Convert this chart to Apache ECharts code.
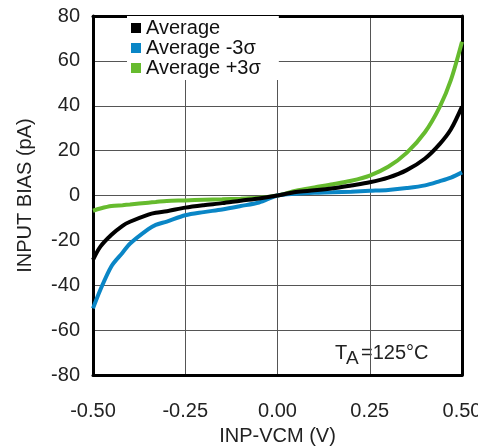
<!DOCTYPE html>
<html>
<head>
<meta charset="utf-8">
<script src="https://cdn.jsdelivr.net/npm/echarts@6/dist/echarts.min.js"></script>
<style>
html, body { margin: 0; padding: 0; background: #fff; }
#main { width: 478px; height: 448px; }
</style>
</head>
<body>
<div id="main"></div>
<script>
// INP-VCM (V)
var xVals = [-0.50, -0.48, -0.45, -0.42, -0.40, -0.35, -0.33, -0.30, -0.25, -0.20, -0.15, -0.10, -0.05, 0,
  0.05, 0.10, 0.15, 0.20, 0.25, 0.30, 0.35, 0.40, 0.44, 0.47, 0.50];
// input bias (pA)
var avg = [-28.7, -22.8, -17.5, -13.5, -11.7, -8.5, -7.7, -7.0, -5.4, -4.3, -3.4, -2.3, -1.3, 0,
  1.6, 2.3, 3.2, 4.5, 5.9, 8.0, 11.3, 16.5, 23.0, 29.5, 39.6];
var avgMinus = [-50.3, -42.0, -31.5, -25.5, -21.5, -15.0, -13.1, -11.6, -8.8, -7.4, -6.2, -4.7, -3.1, 0,
  0.8, 1.2, 1.4, 1.7, 2.1, 2.5, 3.3, 4.5, 6.4, 8.0, 10.3];
var avgPlus = [-6.8, -5.8, -4.7, -4.3, -4.0, -3.2, -2.9, -2.4, -2.2, -1.9, -1.7, -1.4, -1.0, 0,
  2.1, 3.6, 5.0, 6.6, 8.9, 12.8, 19.0, 28.3, 39.6, 51.5, 68.5];
var seriesNames = ['Average', 'Average -3σ', 'Average +3σ'];
var colors = ['#000000', '#0a86c6', '#66bb2e'];

function pairs(ys) {
  return xVals.map(function (x, i) { return [x, ys[i]]; });
}

var myChart = echarts.init(document.getElementById('main'));
var font = 'Liberation Sans';
var axisText = { color: '#222', fontSize: 20, fontFamily: font };
var frame = { show: true, onZero: false, lineStyle: { color: '#000', width: 3 } };

var option = {
  animation: false,
  color: colors,
  textStyle: { fontFamily: font },
  grid: { left: 93, right: 16, top: 16, bottom: 73, outerBoundsMode: 'none' },
  legend: {
    data: seriesNames,
    orient: 'vertical',
    left: 127,
    top: 16,
    padding: [2, 18, 2, 4],
    itemGap: 0,
    itemWidth: 10,
    itemHeight: 10,
    icon: 'rect',
    backgroundColor: '#fff',
    textStyle: { fontSize: 20, color: '#111', lineHeight: 20 }
  },
  xAxis: [{
    type: 'value',
    min: -0.5,
    max: 0.5,
    interval: 0.25,
    name: 'INP-VCM (V)',
    nameLocation: 'middle',
    nameGap: 51,
    nameTextStyle: axisText,
    axisLine: frame,
    axisTick: { show: false },
    axisLabel: Object.assign({ margin: 26, formatter: function (v) { return v.toFixed(2); } }, axisText),
    splitLine: { lineStyle: { color: '#555', width: 1 } }
  }, {
    type: 'value',
    position: 'top',
    min: -0.5,
    max: 0.5,
    interval: 0.25,
    axisLine: frame,
    axisTick: { show: false },
    axisLabel: { show: false },
    splitLine: { show: false }
  }],
  yAxis: [{
    type: 'value',
    min: -80,
    max: 80,
    interval: 20,
    name: 'INPUT BIAS (pA)',
    nameLocation: 'middle',
    nameGap: 58,
    nameTextStyle: axisText,
    axisLine: frame,
    axisTick: { show: false },
    axisLabel: Object.assign({ margin: 13 }, axisText),
    splitLine: { lineStyle: { color: '#555', width: 1 } }
  }, {
    type: 'value',
    position: 'right',
    min: -80,
    max: 80,
    interval: 20,
    axisLine: frame,
    axisTick: { show: false },
    axisLabel: { show: false },
    splitLine: { show: false }
  }],
  graphic: [
    { type: 'text', left: 335, top: 343, style: { text: 'T', fontSize: 20, fontFamily: font, fill: '#222' } },
    { type: 'text', left: 346, top: 349, style: { text: 'A', fontSize: 19, fontFamily: font, fill: '#222' } },
    { type: 'text', left: 361, top: 343, style: { text: '=125°C', fontSize: 20, fontFamily: font, fill: '#222' } }
  ],
  series: seriesNames.map(function (name, i) {
    return {
      name: name,
      type: 'line',
      data: pairs([avg, avgMinus, avgPlus][i]),
      smooth: 0.3,
      showSymbol: false,
      lineStyle: { width: 4, color: colors[i] },
      z: 3 - i
    };
  })
};

myChart.setOption(option);
window.onresize = myChart.resize;
</script>
</body>
</html>
